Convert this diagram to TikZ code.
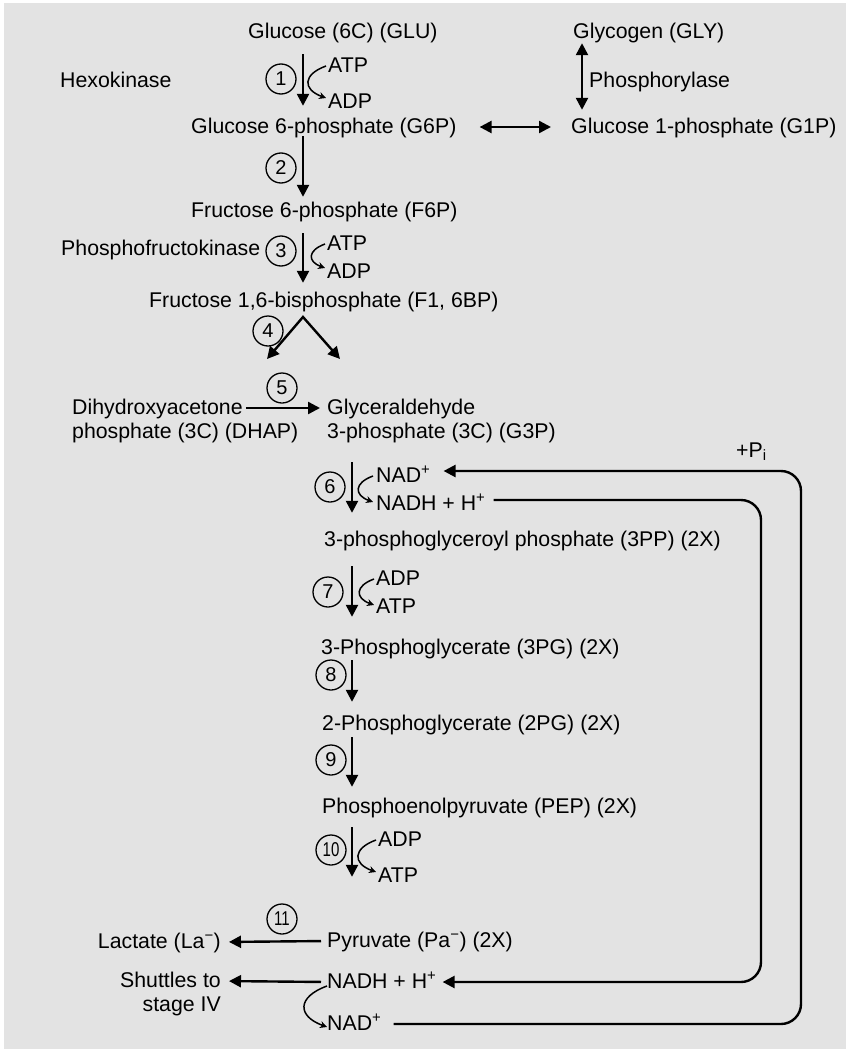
\documentclass[tikz,border=0pt]{standalone}
\usepackage{fontspec}
\setmainfont{Liberation Sans}
\usetikzlibrary{arrows.meta}
\definecolor{bggray}{RGB}{227,227,227}

\tikzset{
  lbl/.style={font=\fontsize{21.3}{24}\selectfont, inner sep=0pt, text height=15pt, text depth=3pt, anchor=base west},
  lble/.style={lbl, anchor=base east},
  stepno/.style={draw, circle, line width=1.3pt, minimum size=30pt, inner sep=0pt, font=\fontsize{20}{20}\selectfont},
  flow/.style={line width=2.4pt, -{Triangle[length=12pt,width=12pt]}},
  both/.style={line width=2.4pt, {Triangle[length=12pt,width=12pt]}-{Triangle[length=12pt,width=12pt]}},
  cofac/.style={line width=1.5pt, -{Stealth[length=7pt,width=7pt]}, looseness=2},
  loopback/.style={line width=2.4pt, rounded corners=20pt, -{Triangle[length=12pt,width=12pt]}},
}

\begin{document}
\begin{tikzpicture}[x=1pt,y=1pt]
                \useasboundingbox (0,0) rectangle (846,-1049);
                \fill[white] (0,0) rectangle (846,-1049);
                \fill[bggray] (4,-3) rectangle (846,-1049);

                \coordinate (sp) at (303,0);
                \coordinate (sq) at (352,0);
                \coordinate (gx) at (582,0);
                \coordinate (outer) at (801,0);
                \coordinate (inner) at (761,0);

                \node[lbl] (glu) at (248,-39) {Glucose (6C) (GLU)};
                \node[lbl] (gly) at (573,-39) {Glycogen (GLY)};
                \node[lbl] (hexo) at (60,-87) {Hexokinase};
                \node[lbl] (phos) at (589,-87) {Phosphorylase};
                \node[lbl] (atp1) at (328,-72) {ATP};
                \node[lbl] (adp1) at (328,-108) {ADP};
                \node[lbl] (g6p) at (191,-133) {Glucose 6-phosphate (G6P)};
                \node[lbl] (g1p) at (571,-133) {Glucose 1-phosphate (G1P)};
                \node[lbl] (f6p) at (191,-217) {Fructose 6-phosphate (F6P)};
                \node[lbl] (pfk) at (61,-255) {Phosphofructokinase};
                \node[lbl] (atp3) at (327,-250) {ATP};
                \node[lbl] (adp3) at (327,-278) {ADP};
                \node[lbl] (f16bp) at (149,-307) {Fructose 1,6-bisphosphate (F1, 6BP)};
                \node[lbl] (dhap) at (72,-414) {Dihydroxyacetone};
                \node[lbl] (dhapb) at (72,-438) {phosphate (3C) (DHAP)};
                \node[lbl] (g3p) at (327,-414) {Glyceraldehyde};
                \node[lbl] (g3pb) at (327,-438) {3-phosphate (3C) (G3P)};
                \node[lbl] (pi) at (736,-457) {+P\textsubscript{i}};
                \node[lbl] (nad6) at (376,-482) {NAD\textsuperscript{+}};
                \node[lbl] (nadh6) at (376,-510) {NADH + H\textsuperscript{+}};
                \node[lbl] (pp3) at (324,-546) {3-phosphoglyceroyl phosphate (3PP) (2X)};
                \node[lbl] (adp7) at (376,-585) {ADP};
                \node[lbl] (atp7) at (376,-613) {ATP};
                \node[lbl] (pg3) at (321,-654) {3-Phosphoglycerate (3PG) (2X)};
                \node[lbl] (pg2) at (322,-730) {2-Phosphoglycerate (2PG) (2X)};
                \node[lbl] (pep) at (322,-813) {Phosphoenolpyruvate (PEP) (2X)};
                \node[lbl] (adp10) at (378,-846) {ADP};
                \node[lbl] (atp10) at (378,-882) {ATP};
                \node[lbl] (pyr) at (327,-947) {Pyruvate (Pa\textsuperscript{−}) (2X)};
                \node[lble] (lac) at (221,-948) {Lactate (La\textsuperscript{−})};
                \node[lble] (shut) at (221,-987) {Shuttles to};
                \node[lble] (shutb) at (221,-1011) {stage IV};
                \node[lbl] (nadh) at (327,-988) {NADH + H\textsuperscript{+}};
                \node[lbl] (nad) at (327,-1030) {NAD\textsuperscript{+}};

                \node[stepno] (c1) at (281,-79) {1};
                \node[stepno] (c2) at (281,-168) {2};
                \node[stepno] (c3) at (281,-251) {3};
                \node[stepno] (c4) at (268,-331) {4};
                \node[stepno] (c5) at (282,-388) {5};
                \node[stepno] (c6) at (330,-487) {6};
                \node[stepno] (c7) at (328,-592) {7};
                \node[stepno] (c8) at (331,-675) {8};
                \node[stepno] (c9) at (331,-760) {9};
                \node[stepno] (c10) at (331,-850) {\scalebox{.75}[1]{10}};
                \node[stepno] (c11) at (282,-919) {\scalebox{.75}[1]{11}};

                \draw[flow, shorten <=12pt, shorten >=12pt] (glu.south -| sp) -- (g6p.north -| sp);
                \draw[flow, shorten >=5pt] (g6p.south -| sp) -- (f6p.north -| sp);
                \draw[flow, shorten <=13pt, shorten >=9pt] (f6p.south -| sp) -- (f16bp.north -| sp);
                \coordinate (apex) at (303,-317);
                \coordinate (s4l) at (267,-359);
                \coordinate (s4r) at (340,-359);
                \draw[both] (s4l) -- (apex) -- (s4r);
                \draw[flow, shorten <=3pt, shorten >=7pt] (dhap.east) -- (g3p.west);
                \draw[flow, shorten <=21pt, shorten >=18pt] (g3pb.south -| sq) -- (pp3.north -| sq);
                \draw[flow, shorten <=17pt, shorten >=22pt] (pp3.south -| sq) -- (pg3.north -| sq);
                \draw[flow, shorten <=3pt, shorten >=13pt] (pg3.south -| sq) -- (pg2.north -| sq);
                \draw[flow, shorten <=4pt, shorten >=11pt] (pg2.south -| sq) -- (pep.north -| sq);
                \draw[flow, shorten <=11pt, shorten >=55pt] (pep.south -| sq) -- (pyr.north -| sq);
                \draw[flow, shorten <=6pt, shorten >=8pt] (pyr.west) -- (lac.east);
                \draw[flow, shorten <=6pt, shorten >=8pt] (nadh.west) -- (shut.east);
                \draw[both, shorten <=23pt, shorten >=20pt] (g6p.east) -- (g1p.west);
                \draw[both, shorten <=1pt, shorten >=8pt] (gly.south -| gx) -- (g1p.north -| gx);

                \draw[cofac] ([xshift=-2pt]atp1.west) to[out=200,in=160] ([xshift=-2pt,yshift=4pt]adp1.west);
                \draw[cofac] ([xshift=-2pt]atp3.west) to[out=200,in=160] ([xshift=-2pt,yshift=4pt]adp3.west);
                \draw[cofac] ([xshift=-3pt]nad6.west) to[out=200,in=160] ([xshift=-3pt,yshift=2pt]nadh6.west);
                \draw[cofac] ([xshift=-2pt]adp7.west) to[out=200,in=160] ([xshift=-2pt,yshift=2pt]atp7.west);
                \draw[cofac] ([xshift=-2pt]adp10.west) to[out=200,in=160] ([xshift=-2pt,yshift=4pt]atp10.west);
                \draw[cofac] ([yshift=-4pt]nadh.west) to[out=200,in=160] ([yshift=-3pt]nad.west);

                \coordinate (nadin) at ([yshift=5pt]nad6.east);
                \coordinate (nadhout) at ([yshift=4pt]nadh6.east);
                \draw[loopback, shorten <=12pt, shorten >=13pt] (nad.east) -- (nad.east -| outer) -- (nadin -| outer) -- (nadin);
                \draw[loopback, shorten <=8pt, shorten >=6pt] (nadhout) -- (nadhout -| inner) -- (nadh.east -| inner) -- (nadh.east);
\end{tikzpicture}
\end{document}
